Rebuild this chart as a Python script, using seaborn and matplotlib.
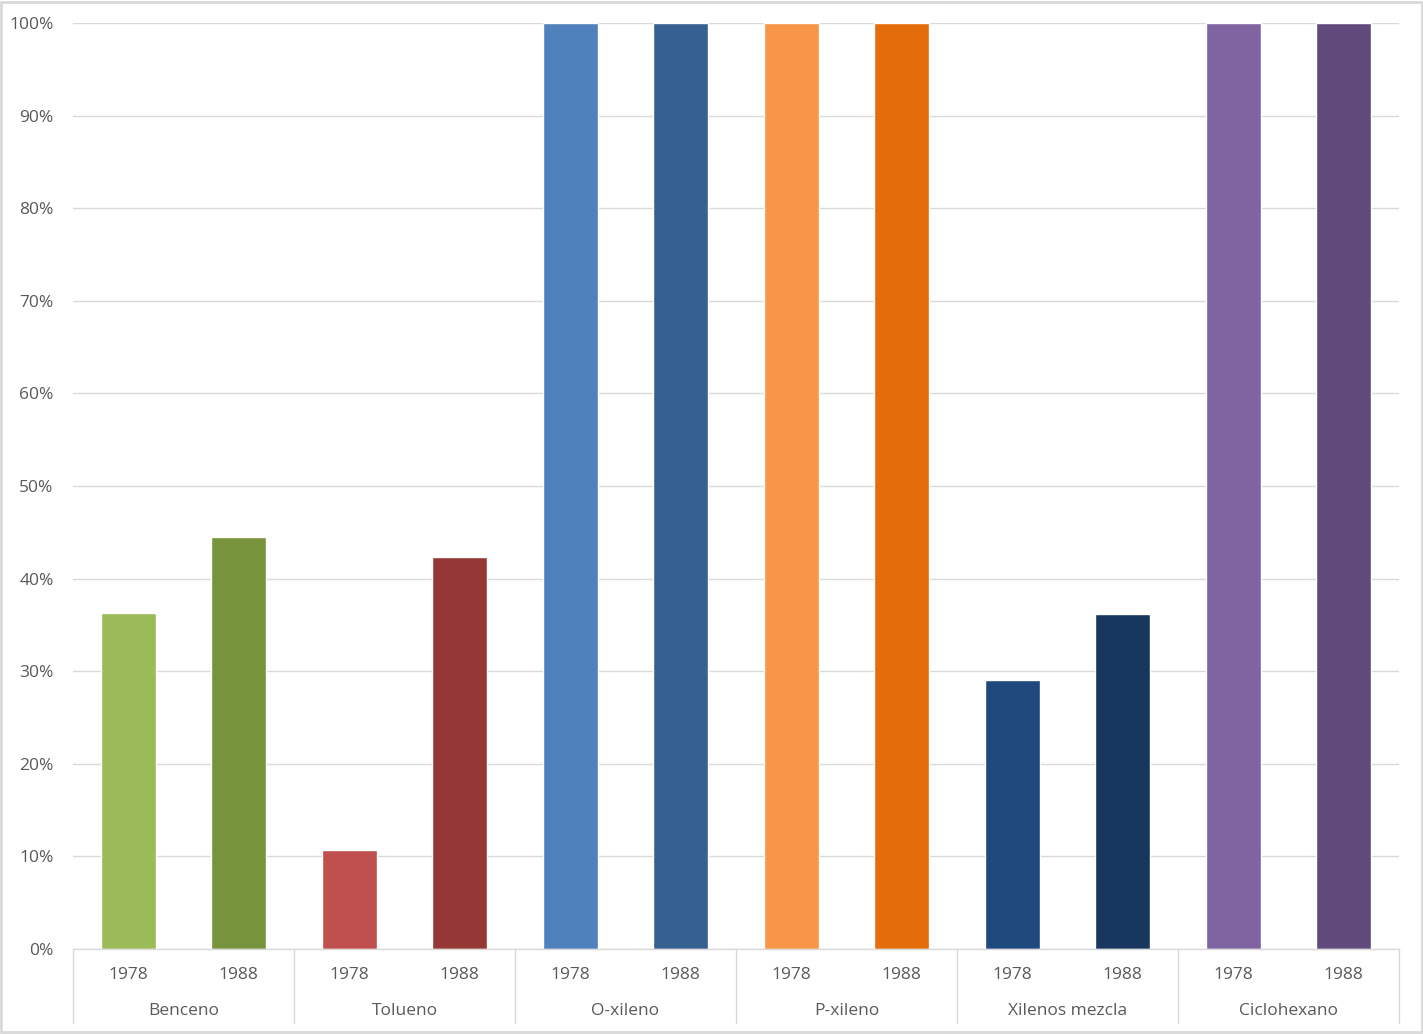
import matplotlib
matplotlib.use("Agg")
import matplotlib.pyplot as plt
import seaborn as sns
import pandas as pd
from matplotlib.ticker import PercentFormatter
from matplotlib.patches import Rectangle

# data
products = ["Benceno", "Tolueno", "O-xileno", "P-xileno", "Xilenos mezcla", "Ciclohexano"]
years = ["1978", "1988"]
share_1978 = [36.3, 10.7, 100, 100, 29.0, 100]
share_1988 = [44.5, 42.3, 100, 100, 36.2, 100]
colors_1978 = ["#9BBB59", "#C0504D", "#4F81BD", "#F79646", "#1F497D", "#8064A2"]
colors_1988 = ["#77933C", "#953735", "#366092", "#E46C0A", "#17375E", "#604A7B"]

rows = []
for i, p in enumerate(products):
    rows.append({"slot": f"{p} 1978", "year": "1978", "value": share_1978[i], "color": colors_1978[i]})
    rows.append({"slot": f"{p} 1988", "year": "1988", "value": share_1988[i], "color": colors_1988[i]})
df = pd.DataFrame(rows)

sns.set_theme(style="white")
plt.rcParams["font.family"] = ["Open Sans", "DejaVu Sans"]

fig = plt.figure(figsize=(14.23, 10.34), dpi=100)
ax = fig.add_axes([73 / 1423, 1 - 949 / 1034, (1399 - 73) / 1423, (949 - 23) / 1034])

palette = dict(zip(df["slot"], df["color"]))
sns.barplot(data=df, x="slot", y="value", hue="slot", palette=palette,
            width=0.5, legend=False, saturation=1, ax=ax)

ax.set_ylim(0, 100)
ax.set_xlim(-0.5, len(df) - 0.5)
ax.set_yticks(range(0, 101, 10))
ax.yaxis.set_major_formatter(PercentFormatter(decimals=0))
ax.yaxis.grid(True, color="#D9D9D9", lw=1)
ax.set_axisbelow(True)
ax.set_xlabel("")
ax.set_ylabel("")
ax.set_xticks(range(len(df)))
ax.set_xticklabels(df["year"])
ax.tick_params(axis="x", length=0, pad=13, labelsize=12.5, labelcolor="#595959")
ax.tick_params(axis="y", length=0, pad=14, labelsize=12.5, labelcolor="#595959")
for s in ["top", "right", "left"]:
    ax.spines[s].set_visible(False)
ax.spines["bottom"].set_color("#D9D9D9")
ax.spines["bottom"].set_linewidth(1)

# group separators and labels under the axis
trans = ax.get_xaxis_transform()
sep_bottom = -(1023 - 949) / (949 - 23)
for g in range(len(products) + 1):
    xpos = g * 2 - 0.5
    ax.plot([xpos, xpos], [0, sep_bottom], transform=trans, color="#D9D9D9",
            lw=1, clip_on=False)
label_y = -(1011 - 949) / (949 - 23)
for g, p in enumerate(products):
    ax.text(g * 2 + 0.5, label_y, p, transform=trans, ha="center", va="center",
            fontsize=12.5, color="#595959")

fig.patches.append(Rectangle((0.001, 0.002), 0.998, 0.996, transform=fig.transFigure,
                             fill=False, edgecolor="#D9D9D9", lw=2))

fig.savefig("out.png", dpi=100)
